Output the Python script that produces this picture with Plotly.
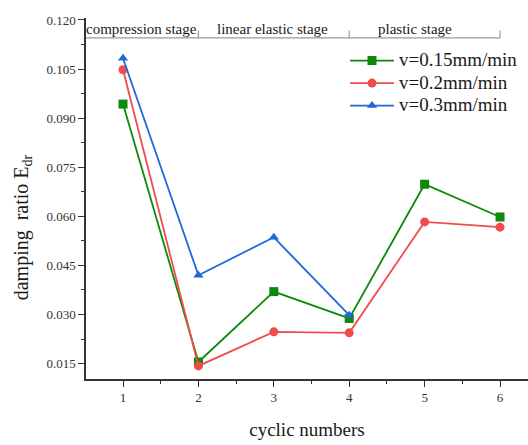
import plotly.graph_objects as go

cycles = [1, 2, 3, 4, 5, 6]
v015 = [0.0943, 0.0155, 0.0370, 0.0288, 0.0698, 0.0598]
v02 = [0.1048, 0.0143, 0.0247, 0.0244, 0.0583, 0.0567]
cycles_v03 = [1, 2, 3, 4]
v03 = [0.1083, 0.0420, 0.0536, 0.0298]

names = ["v=0.15mm/min", "v=0.2mm/min", "v=0.3mm/min"]
colors = ["#0B8A0B", "#F24B4B", "#2166DD"]
symbols = ["square", "circle", "triangle-up"]

stage_labels = ["compression stage", "linear elastic stage", "plastic stage"]
stage_bounds = [2, 4, 6]
stage_centers = [1.25, 2.98, 4.87]

FONT = "Liberation Serif, Times New Roman, serif"

fig = go.Figure()
for xs, ys, n, c, s in [(cycles, v015, names[0], colors[0], symbols[0]),
                        (cycles, v02, names[1], colors[1], symbols[1]),
                        (cycles_v03, v03, names[2], colors[2], symbols[2])]:
    fig.add_trace(go.Scatter(x=xs, y=ys,
                             name='<span style="font-size:19px">' + n + '</span>',
                             mode="lines+markers",
                             line=dict(color=c, width=1.8),
                             marker=dict(symbol=s, size=9, color=c)))

xr = [0.509, 6.371]
yr = [0.0103, 0.1206]
bar_y = 0.1145
tick_top = 0.1168

fig.add_shape(type="line", x0=xr[0], x1=6, y0=bar_y, y1=bar_y,
              line=dict(color="#9a9a9a", width=1.2))
for b in stage_bounds:
    fig.add_shape(type="line", x0=b, x1=b, y0=bar_y, y1=tick_top,
                  line=dict(color="#9a9a9a", width=1.2))
for lab, cx in zip(stage_labels, stage_centers):
    fig.add_annotation(x=cx, y=bar_y, text=lab, showarrow=False,
                       yanchor="bottom", yshift=-1,
                       font=dict(family=FONT, size=15, color="#1a1a1a"))

fig.add_annotation(xref="paper", yref="paper", x=-0.145, y=0.42,
                   text="damping  ratio E<sub>dr</sub>", textangle=-90,
                   showarrow=False, xanchor="center", yanchor="middle",
                   font=dict(family=FONT, size=20, color="#1a1a1a"))

fig.update_layout(
    width=528, height=445,
    margin=dict(l=86, r=0, t=18, b=66),
    plot_bgcolor="white", paper_bgcolor="white",
    font=dict(family=FONT, color="#1a1a1a"),
    showlegend=True,
    legend=dict(x=0.586, y=0.927, xanchor="left", yanchor="top",
                font=dict(family=FONT, size=15, color="#1a1a1a"),
                bgcolor="rgba(0,0,0,0)", itemwidth=44,
                tracegroupgap=0),
    xaxis=dict(range=xr, tickvals=cycles, showgrid=False, zeroline=False,
               showline=True, linecolor="#333", linewidth=1.5,
               ticks="outside", ticklen=6, tickwidth=1.3, tickcolor="#333",
               tickfont=dict(family=FONT, size=13, color="#333"),
               minor=dict(tickvals=[1.5, 2.5, 3.5, 4.5, 5.5], ticks="outside",
                          ticklen=3, tickwidth=1.3, tickcolor="#333"),
               title=dict(text="cyclic numbers", standoff=18,
                          font=dict(family=FONT, size=19, color="#1a1a1a"))),
    yaxis=dict(range=yr, tickvals=[0.015, 0.030, 0.045, 0.060, 0.075, 0.090, 0.105, 0.120],
               ticktext=["0.015", "0.030", "0.045", "0.060", "0.075", "0.090", "0.105", "0.120"],
               showgrid=False, zeroline=False,
               showline=True, linecolor="#333", linewidth=1.5,
               ticks="outside", ticklen=6, tickwidth=1.3, tickcolor="#333",
               tickfont=dict(family=FONT, size=13, color="#333"),
               minor=dict(tickvals=[0.0225, 0.0375, 0.0525, 0.0675, 0.0825, 0.0975, 0.1125],
                          ticks="outside", ticklen=3, tickwidth=1.3, tickcolor="#333")),
)

fig.write_html("out.html")
